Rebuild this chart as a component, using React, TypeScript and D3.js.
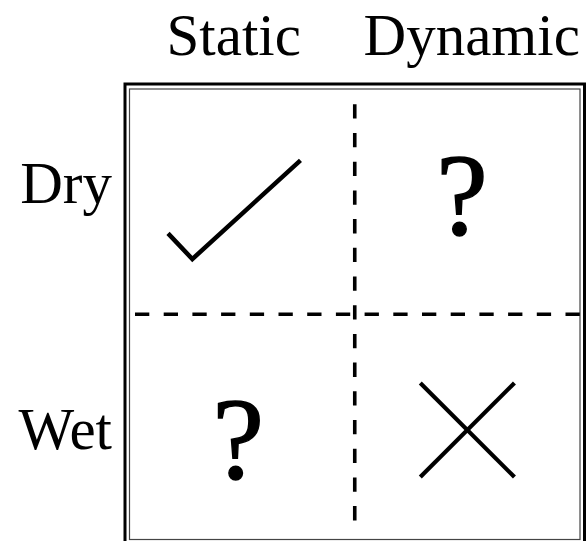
import React from "react";
import * as d3 from "d3";

// ---- data ----
const columns: string[] = ["Static", "Dynamic"];
const rows: string[] = ["Dry", "Wet"];
// marks per cell, row-major: [row][column]
const marks: string[][] = [
  ["check", "question"],
  ["question", "cross"],
];

// ---- layout ----
const W = 586;
const H = 541;
const FONT = "'Liberation Serif', 'Times New Roman', Times, serif";
const inner = { x0: 129.5, x1: 580, y0: 89, y1: 539.5 };
const colLabelX: Record<string, number> = { Static: 233.7, Dynamic: 471.7 };
const colLabelBaseline = 55;
const rowLabelRight = 112;
const rowLabelBaseline: Record<string, number> = { Dry: 203.3, Wet: 449.3 };
const qNudge: Record<string, [number, number]> = {
  "Dry|Dynamic": [-5.5, 32],
  "Wet|Static": [-4, 51],
};

export default function App() {
  const x = d3.scaleBand<string>().domain(columns).range([inner.x0, inner.x1]);
  const y = d3.scaleBand<string>().domain(rows).range([inner.y0, inner.y1]);
  const bw = x.bandwidth();
  const bh = y.bandwidth();
  const divX = inner.x0 + x.step();
  const divY = inner.y0 + y.step();

  const line = d3.line<[number, number]>();

  const cells: React.ReactNode[] = [];
  rows.forEach((r, ri) => {
    columns.forEach((c, ci) => {
      const kind = marks[ri][ci];
      const cx = (x(c) as number) + bw / 2;
      const cy = (y(r) as number) + bh / 2;
      const key = `${r}|${c}`;
      if (kind === "check") {
        const pts: [number, number][] = [
          [cx - 0.329 * bw, cy + 0.141 * bh],
          [cx - 0.221 * bw, cy + 0.255 * bh],
          [cx + 0.259 * bw, cy - 0.183 * bh],
        ];
        cells.push(
          <path key={key} d={line(pts) || ""} fill="none" stroke="#000" strokeWidth={4.5} strokeLinejoin="miter" />
        );
      } else if (kind === "cross") {
        const s = 0.209;
        const oy = 0.014 * bh;
        cells.push(
          <g key={key} stroke="#000" strokeWidth={4.2}>
            <path d={line([[cx - s * bw, cy + oy - s * bh], [cx + s * bw, cy + oy + s * bh]]) || ""} />
            <path d={line([[cx - s * bw, cy + oy + s * bh], [cx + s * bw, cy + oy - s * bh]]) || ""} />
          </g>
        );
      } else {
        const [dx, dy] = qNudge[key] || [0, 0];
        cells.push(
          <text key={key} x={cx + dx} y={cy + dy} textAnchor="middle" fontFamily={FONT} fontSize={116} fill="#000" stroke="#000" strokeWidth={1.4}>
            ?
          </text>
        );
      }
    });
  });

  return (
    <svg width={W} height={H} style={{ position: "absolute", left: 0, top: 0, background: "#fff" }}>
      {/* double border */}
      <rect x={125} y={84} width={459.5} height={461} fill="none" stroke="#000" strokeWidth={3} />
      <rect x={inner.x0} y={inner.y0} width={inner.x1 - inner.x0} height={inner.y1 - inner.y0} fill="none" stroke="#444" strokeWidth={1.2} />
      {/* dashed dividers */}
      <line x1={divX} x2={divX} y1={104.3} y2={521} stroke="#000" strokeWidth={3.6} strokeDasharray="14.3,14.4" />
      <line x1={135} x2={580} y1={divY} y2={divY} stroke="#000" strokeWidth={3.6} strokeDasharray="14.3,14.4" />
      {/* column labels */}
      {columns.map((c) => (
        <text key={c} x={colLabelX[c]} y={colLabelBaseline} textAnchor="middle" fontFamily={FONT} fontSize={59} fill="#000">
          {c}
        </text>
      ))}
      {/* row labels */}
      {rows.map((r) => (
        <text key={r} x={rowLabelRight} y={rowLabelBaseline[r]} textAnchor="end" fontFamily={FONT} fontSize={59} fill="#000">
          {r}
        </text>
      ))}
      {cells}
    </svg>
  );
}
